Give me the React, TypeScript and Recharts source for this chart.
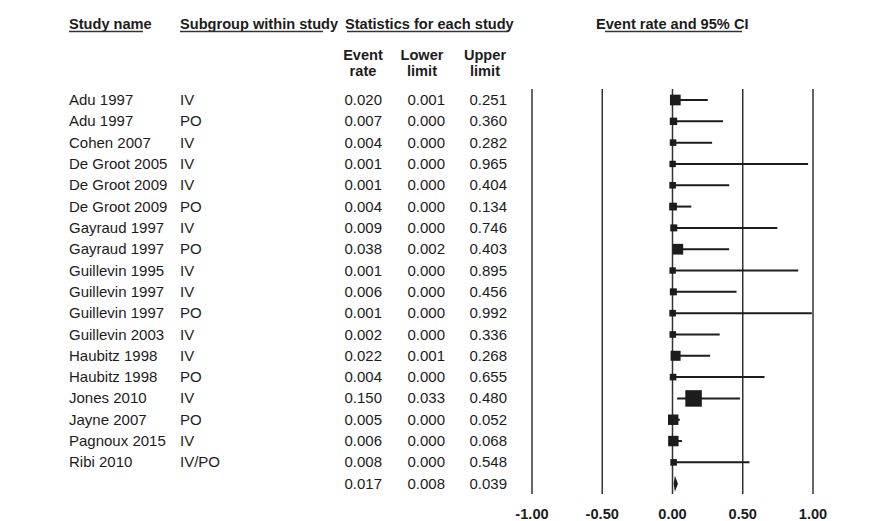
import React from "react";
import { BarChart, Bar, XAxis, YAxis, CartesianGrid, Customized } from "recharts";

// rows (last row = pooled estimate)
const studyNames = [
  "Adu 1997", "Adu 1997", "Cohen 2007", "De Groot 2005", "De Groot 2009", "De Groot 2009",
  "Gayraud 1997", "Gayraud 1997", "Guillevin 1995", "Guillevin 1997", "Guillevin 1997",
  "Guillevin 2003", "Haubitz 1998", "Haubitz 1998", "Jones 2010", "Jayne 2007",
  "Pagnoux 2015", "Ribi 2010", "",
];
const subgroups = [
  "IV", "PO", "IV", "IV", "IV", "PO", "IV", "PO", "IV", "IV", "PO", "IV", "IV", "PO",
  "IV", "PO", "IV", "IV/PO", "",
];
const eventRate = [
  0.020, 0.007, 0.004, 0.001, 0.001, 0.004, 0.009, 0.038, 0.001, 0.006, 0.001, 0.002,
  0.022, 0.004, 0.150, 0.005, 0.006, 0.008, 0.017,
];
const lowerLimit = [
  0.001, 0.000, 0.000, 0.000, 0.000, 0.000, 0.000, 0.002, 0.000, 0.000, 0.000, 0.000,
  0.001, 0.000, 0.033, 0.000, 0.000, 0.000, 0.008,
];
const upperLimit = [
  0.251, 0.360, 0.282, 0.965, 0.404, 0.134, 0.746, 0.403, 0.895, 0.456, 0.992, 0.336,
  0.268, 0.655, 0.480, 0.052, 0.068, 0.548, 0.039,
];
// relative study weights (marker area)
const weights = [42, 20, 16, 15, 16, 22, 18, 42, 15, 18, 16, 16, 37, 16, 100, 40, 40, 16, 0];
const xTicks = [-1, -0.5, 0, 0.5, 1];

const rows = studyNames.map((name, i) => ({
  key: String(i),
  study: name,
  subgroup: subgroups[i],
  rate: eventRate[i],
  lower: lowerLimit[i],
  upper: upperLimit[i],
  ci: [lowerLimit[i], upperLimit[i]],
  weight: weights[i],
  pooled: i === studyNames.length - 1,
}));

const FONT = "'Liberation Sans', Arial, Helvetica, sans-serif";
const INK = "#1c1c1c";
const maxWeight = Math.max(...weights);

const ForestMark = (props: any) => {
  const { x, y, width, height, payload } = props;
  const cy = y + height / 2;
  const span = payload.upper - payload.lower;
  const rx = x + (span > 0 ? (width * (payload.rate - payload.lower)) / span : 0);
  if (payload.pooled) {
    const pts = `${x},${cy} ${rx},${cy - 8} ${x + width},${cy} ${rx},${cy + 8}`;
    return <polygon points={pts} fill={INK} />;
  }
  const side = 16.5 * Math.sqrt(payload.weight / maxWeight);
  return (
    <g>
      <line x1={x} x2={x + width} y1={cy} y2={cy} stroke={INK} strokeWidth={2} />
      <rect x={rx - side / 2} y={cy - side / 2} width={side} height={side} fill={INK} />
    </g>
  );
};

const RowLabels = (props: any) => {
  const { y, payload } = props;
  const r = rows[Number(payload.value)];
  if (!r) return null;
  const t = { fontFamily: FONT, fontSize: 15, fill: INK, dy: "0.36em" } as any;
  return (
    <g>
      <text x={69} y={y} {...t}>{r.study}</text>
      <text x={180} y={y} {...t}>{r.subgroup}</text>
      <text x={382} y={y} textAnchor="end" {...t}>{r.rate.toFixed(3)}</text>
      <text x={445} y={y} textAnchor="end" {...t}>{r.lower.toFixed(3)}</text>
      <text x={507} y={y} textAnchor="end" {...t}>{r.upper.toFixed(3)}</text>
    </g>
  );
};

const Headers = () => {
  const b = { fontFamily: FONT, fontSize: 14.6, fontWeight: 700, fill: INK } as any;
  const u = { stroke: "#333", strokeWidth: 1.5 };
  return (
    <g>
      <text x={69} y={29} {...b}>Study name</text>
      <line x1={69} x2={143} y1={31.5} y2={31.5} {...u} />
      <text x={180} y={29} {...b}>Subgroup within study</text>
      <line x1={180} x2={323} y1={31.5} y2={31.5} {...u} />
      <text x={345} y={29} {...b}>Statistics for each study</text>
      <line x1={347} x2={508} y1={31.5} y2={31.5} {...u} />
      <text x={596} y={29} {...b}>Event rate and 95% CI</text>
      <line x1={605} x2={742} y1={31.5} y2={31.5} {...u} />
      <text x={363} y={60} textAnchor="middle" {...b}>Event</text>
      <text x={363} y={76} textAnchor="middle" {...b}>rate</text>
      <text x={422} y={60} textAnchor="middle" {...b}>Lower</text>
      <text x={422} y={76} textAnchor="middle" {...b}>limit</text>
      <text x={485} y={60} textAnchor="middle" {...b}>Upper</text>
      <text x={485} y={76} textAnchor="middle" {...b}>limit</text>
    </g>
  );
};

export default function App() {
  return (
    <div style={{ position: "absolute", left: 0, top: 0, width: 889, height: 521, background: "#fff" }}>
      <BarChart
        width={889}
        height={521}
        data={rows}
        layout="vertical"
        margin={{ top: 89, right: 76, bottom: 0, left: 0 }}
      >
        <CartesianGrid horizontal={false} stroke="#333" strokeWidth={1.5} />
        <XAxis
          type="number"
          domain={[-1, 1]}
          ticks={xTicks}
          height={27}
          axisLine={false}
          tickLine={false}
          tickMargin={9}
          tickFormatter={(v: number) => v.toFixed(2)}
          tick={{ fontFamily: FONT, fontSize: 14.6, fontWeight: 700, fill: INK }}
        />
        <YAxis
          type="category"
          dataKey="key"
          width={532}
          interval={0}
          axisLine={false}
          tickLine={false}
          tick={<RowLabels />}
        />
        <Bar dataKey="ci" barSize={18} shape={<ForestMark />} isAnimationActive={false} />
        <Customized component={Headers} />
      </BarChart>
    </div>
  );
}
